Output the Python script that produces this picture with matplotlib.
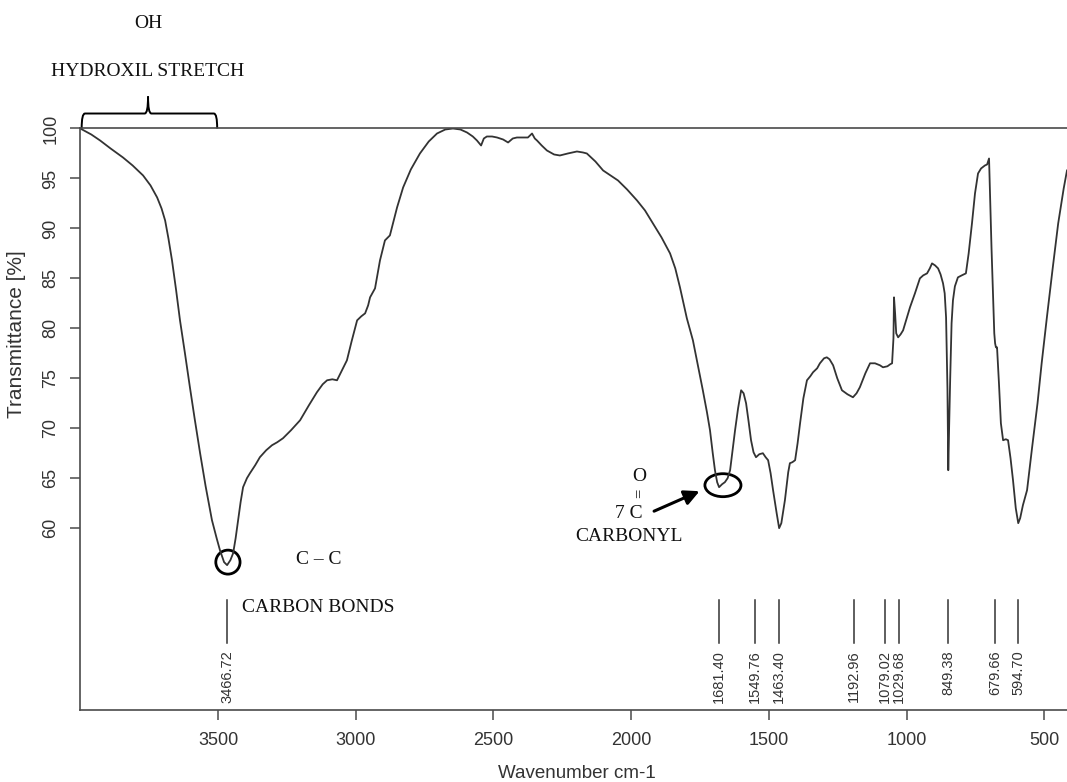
import matplotlib
matplotlib.use("Agg")
import matplotlib.pyplot as plt
from matplotlib.patches import Ellipse, PathPatch
from matplotlib.path import Path

# FTIR spectrum: wavenumber (cm-1) and transmittance (%)
wavenumber = [
    4000, 3960, 3928, 3890, 3845, 3810, 3772, 3745, 3721, 3705, 3692, 3680,
    3667, 3652, 3638, 3620, 3602, 3585, 3565, 3545, 3522, 3505, 3493, 3478,
    3467, 3455, 3445, 3436, 3427, 3418, 3409, 3395, 3384, 3365, 3348, 3325,
    3304, 3285, 3264, 3235, 3202, 3170, 3141, 3120, 3104, 3085, 3068, 3050,
    3032, 3015, 2995, 2980, 2966, 2955, 2948, 2930, 2912, 2894, 2876, 2850,
    2828, 2800, 2767, 2735, 2705, 2675, 2647, 2620, 2596, 2575, 2560, 2545,
    2535, 2524, 2505, 2487, 2465, 2447, 2430, 2415, 2395, 2375, 2360, 2350,
    2342, 2325, 2306, 2280, 2259, 2230, 2197, 2175, 2161, 2130, 2102, 2075,
    2048, 2015, 1979, 1950, 1921, 1890, 1859, 1840, 1823, 1810, 1798, 1776,
    1758, 1740, 1725, 1714, 1704, 1696, 1688, 1681, 1670, 1660, 1650, 1641,
    1632, 1623, 1612, 1601, 1592, 1583, 1574, 1565, 1556, 1547, 1535, 1522,
    1512, 1503, 1494, 1485, 1472, 1463, 1455, 1442, 1430, 1424, 1415, 1405,
    1396, 1387, 1375, 1362, 1350, 1340, 1325, 1315, 1300, 1290, 1280, 1267,
    1252, 1235, 1215, 1195, 1182, 1170, 1150, 1133, 1115, 1097, 1086, 1070,
    1060, 1053, 1048, 1046, 1042, 1038, 1031, 1022, 1013, 1000, 988, 970,
    952, 940, 926, 916, 908, 897, 886, 877, 868, 862, 857, 852, 849, 846,
    842, 837, 832, 825, 814, 800, 785, 775, 763, 752, 741, 730, 716, 708,
    701, 697, 692, 687, 682, 679, 676, 672, 665, 658, 650, 640, 632, 623,
    614, 604, 595, 588, 578, 563, 545, 525, 510, 491, 470, 450, 430, 418,
]
transmittance = [
    100.0, 99.4, 98.8, 98.0, 97.1, 96.3, 95.3, 94.3, 93.1, 92.0, 90.8, 89.0,
    86.8, 83.8, 80.8, 77.5, 74.1, 71.0, 67.5, 64.2, 60.8, 59.0, 57.8, 56.6,
    56.3, 56.8, 57.5, 59.0, 60.8, 62.6, 64.1, 65.0, 65.5, 66.3, 67.1, 67.8,
    68.3, 68.6, 69.0, 69.8, 70.8, 72.3, 73.6, 74.4, 74.8, 74.9, 74.8, 75.8,
    76.8, 78.7, 80.8, 81.2, 81.5, 82.3, 83.1, 84.0, 86.8, 88.8, 89.3, 92.1,
    94.1, 95.9, 97.5, 98.7, 99.5, 99.9, 100.0, 99.9, 99.6, 99.2, 98.8, 98.3,
    99.0, 99.2, 99.2, 99.1, 98.9, 98.6, 99.0, 99.1, 99.1, 99.1, 99.5, 99.0,
    98.8, 98.3, 97.8, 97.4, 97.3, 97.5, 97.7, 97.6, 97.5, 96.7, 95.8, 95.3,
    94.8, 93.9, 92.8, 91.8, 90.5, 89.1, 87.5, 86.0, 84.1, 82.5, 81.0, 78.8,
    76.3, 73.8, 71.6, 69.8, 67.5, 65.8, 64.6, 64.1, 64.4, 64.6, 65.0, 65.8,
    67.8, 69.8, 72.0, 73.8, 73.5, 72.5, 70.7, 68.8, 67.6, 67.1, 67.4, 67.5,
    67.1, 66.8, 65.5, 63.8, 61.5, 60.0, 60.5, 62.8, 65.6, 66.5, 66.6, 66.8,
    68.5, 70.5, 73.0, 74.8, 75.2, 75.6, 76.0, 76.5, 77.0, 77.1, 76.9, 76.3,
    75.0, 73.8, 73.4, 73.1, 73.5, 74.1, 75.5, 76.5, 76.5, 76.3, 76.1, 76.2,
    76.4, 76.5, 79.0, 83.1, 81.5, 79.5, 79.1, 79.4, 79.8, 81.0, 82.1, 83.5,
    85.0, 85.3, 85.5, 86.0, 86.5, 86.3, 86.0, 85.4, 84.5, 83.5, 81.1, 74.0, 65.8, 70.0,
    75.0, 80.5, 82.8, 84.2, 85.1, 85.3, 85.5, 87.5, 90.5, 93.5, 95.5, 96.0, 96.3, 96.4,
    97.0, 93.0, 88.0, 83.8, 79.5, 78.5, 78.1, 78.1, 74.5, 70.5, 68.8, 68.9, 68.8, 67.0,
    64.8, 62.0, 60.5, 61.0, 62.3, 63.8, 68.0, 72.5, 76.5, 81.1, 86.0, 90.5, 94.0, 95.8,
]

# Picked peaks
peak_positions = [3466.72, 1681.40, 1549.76, 1463.40, 1192.96, 1079.02,
                  1029.68, 849.38, 679.66, 594.70]
peak_labels = ["3466.72", "1681.40", "1549.76", "1463.40", "1192.96", "1079.02",
               "1029.68", "849.38", "679.66", "594.70"]

x_ticks = [3500, 3000, 2500, 2000, 1500, 1000, 500]
y_ticks = [60, 65, 70, 75, 80, 85, 90, 95, 100]

SANS = "Liberation Sans"
SERIF = "Liberation Serif"
INK = "#333333"
AXC = "#4a4a4a"

fig = plt.figure(figsize=(10.67, 7.82), dpi=100)
ax = fig.add_axes([80 / 1067, 72 / 782, 987 / 1067, 582 / 782])

ax.plot(wavenumber, transmittance, color=INK, lw=1.3)

ax.set_xlim(4001, 418)
ax.set_ylim(41.8, 100.05)

ax.spines["right"].set_visible(False)
for side in ("left", "bottom", "top"):
    ax.spines[side].set_color(AXC)
    ax.spines[side].set_linewidth(1.2)

ax.set_xticks(x_ticks)
ax.set_xticklabels([str(v) for v in x_ticks], fontfamily=SANS, fontsize=13, color="#333333")
ax.set_yticks(y_ticks)
ax.set_yticklabels([str(v) for v in y_ticks], fontfamily=SANS, fontsize=13,
                   color="#333333", rotation=90, va="center")
ax.tick_params(axis="both", direction="out", length=7, width=1.1, color=AXC)
ax.tick_params(axis="x", pad=9)
ax.tick_params(axis="y", pad=8)

ax.set_xlabel("Wavenumber cm-1", fontfamily=SANS, fontsize=13.5, color="#333333")
ax.xaxis.set_label_coords((577 - 80) / 987, -(765 - 710) / 582)
ax.set_ylabel("Transmittance [%]", fontfamily=SANS, fontsize=15, color="#333333")
ax.yaxis.set_label_coords(-(80 - 26) / 987, (710 - 334) / 582)

# Peak markers with rotated position labels
for pos, lab in zip(peak_positions, peak_labels):
    ax.plot([pos, pos], [48.5, 52.8], color=INK, lw=1.1)
    ax.text(pos, 47.8, lab, rotation=90, ha="center", va="top",
            fontfamily=SANS, fontsize=10.5, color="#333333")

# Circles marking the O-H minimum and the carbonyl band
ax.add_patch(Ellipse((3464, 56.6), 88, 2.4, fill=False, lw=2.0, color="black"))
ax.add_patch(Ellipse((1667, 64.3), 131, 2.3, fill=False, lw=2.0, color="black"))

serif_kw = dict(fontfamily=SERIF, fontsize=14, color="#111111")
ax.text(3133, 56.9, "C \u2013 C", ha="center", va="center", **serif_kw)
ax.text(3413, 52.1, "CARBON BONDS", ha="left", va="center", **serif_kw)
ax.text(1972, 65.2, "O", ha="center", va="center", **serif_kw)
ax.text(1972, 63.5, "=", rotation=90, ha="center", va="center",
        fontfamily=SERIF, fontsize=12, color="#111111")
ax.text(1957, 61.5, "7 C", ha="right", va="center", **serif_kw)
ax.text(2008, 59.2, "CARBONYL", ha="center", va="center", **serif_kw)
ax.annotate("", xy=(1752, 63.7), xytext=(1917, 61.7),
            arrowprops=dict(arrowstyle="-|>,head_length=0.9,head_width=0.45",
                            lw=2.2, color="black", shrinkA=0, shrinkB=0))

# Brace over the hydroxyl stretching region
x0, x1, xm = 3995, 3503, 3754
yb, yt, ytip = 100.0, 101.5, 103.2
dx = 12
verts = [
    (x0, yb), (x0, yt), (x0 - dx, yt),
    (xm + dx, yt), (xm, yt), (xm, ytip),
    (xm, yt), (xm - dx, yt),
    (x1 + dx, yt), (x1, yt), (x1, yb),
]
codes = [
    Path.MOVETO, Path.CURVE3, Path.CURVE3,
    Path.LINETO, Path.CURVE3, Path.CURVE3,
    Path.CURVE3, Path.CURVE3,
    Path.LINETO, Path.CURVE3, Path.CURVE3,
]
ax.add_patch(PathPatch(Path(verts, codes), fill=False, lw=1.4,
                       color="black", clip_on=False))
ax.text(xm, 105.7, "HYDROXIL STRETCH", ha="center", va="center", **serif_kw)
ax.text(xm, 110.5, "OH", ha="center", va="center", **serif_kw)

fig.savefig("out.png", dpi=100)
